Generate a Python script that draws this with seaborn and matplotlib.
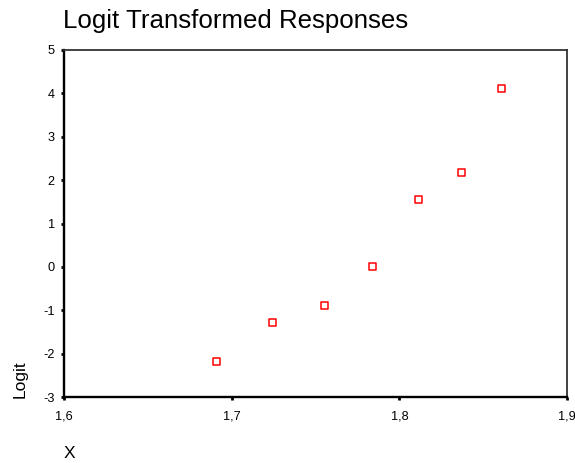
import matplotlib
matplotlib.use("Agg")
import matplotlib.pyplot as plt
import seaborn as sns
import pandas as pd
from matplotlib.ticker import FixedLocator, FixedFormatter

# Data
dose = [1.6907, 1.7242, 1.7552, 1.7842, 1.8113, 1.8369, 1.8610]
logit = [-2.178, -1.285, -0.894, 0.000, 1.553, 2.179, 4.111]

x_ticks = [1.6, 1.7, 1.8, 1.9]
x_tick_labels = ["1,6", "1,7", "1,8", "1,9"]
y_ticks = [-3, -2, -1, 0, 1, 2, 3, 4, 5]
y_tick_labels = ["-3", "-2", "-1", "0", "1", "2", "3", "4", "5"]

title = "Logit Transformed Responses"
x_label = "X"
y_label = "Logit"

df = pd.DataFrame({"X": dose, "Logit": logit})

sns.set_style("white")
plt.rcParams["font.family"] = ["Liberation Sans", "DejaVu Sans"]
plt.rcParams["text.color"] = "black"
plt.rcParams["axes.labelcolor"] = "black"

W, H = 575, 463
fig = plt.figure(figsize=(W / 100, H / 100), dpi=100)
ax_l, ax_r, ax_t, ax_b = 64, 567, 50, 397
ax = fig.add_axes([ax_l / W, 1 - ax_b / H, (ax_r - ax_l) / W, (ax_b - ax_t) / H])

sns.scatterplot(data=df, x="X", y="Logit", ax=ax, marker="s", s=26,
                facecolors="none", edgecolor="#ff0000", linewidth=1.1)

ax.set_xlim(1.6, 1.9)
ax.set_ylim(-3, 5)
ax.xaxis.set_major_locator(FixedLocator(x_ticks))
ax.xaxis.set_major_formatter(FixedFormatter(x_tick_labels))
ax.yaxis.set_major_locator(FixedLocator(y_ticks))
ax.yaxis.set_major_formatter(FixedFormatter(y_tick_labels))

ax.tick_params(axis="both", which="major", direction="out", length=2.5, width=2.0,
               color="black", labelcolor="black", labelsize=9.2,
               bottom=True, left=True)
ax.tick_params(axis="y", pad=4.0)
ax.tick_params(axis="x", pad=7.0)

for side in ["left", "bottom"]:
    ax.spines[side].set_linewidth(1.7)
    ax.spines[side].set_color("black")
for side in ["top", "right"]:
    ax.spines[side].set_linewidth(1.3)
    ax.spines[side].set_color("#333333")
    ax.spines[side].set_visible(True)

ax.set_xlabel(x_label, fontsize=12.5, ha="left", va="baseline", color="black")
ax.xaxis.set_label_coords(0, (ax_b - 458) / (ax_b - ax_t))
ax.set_ylabel(y_label, fontsize=12.5, color="black")
ax.yaxis.label.set(ha="left", va="center", rotation_mode="anchor")
ax.yaxis.set_label_coords((20 - ax_l) / (ax_r - ax_l), -0.003)

fig.text(63 / W, 1 - 28 / H, title, fontsize=18.6, ha="left", va="baseline",
         color="black")

fig.savefig("out.png", dpi=100, facecolor="white")
